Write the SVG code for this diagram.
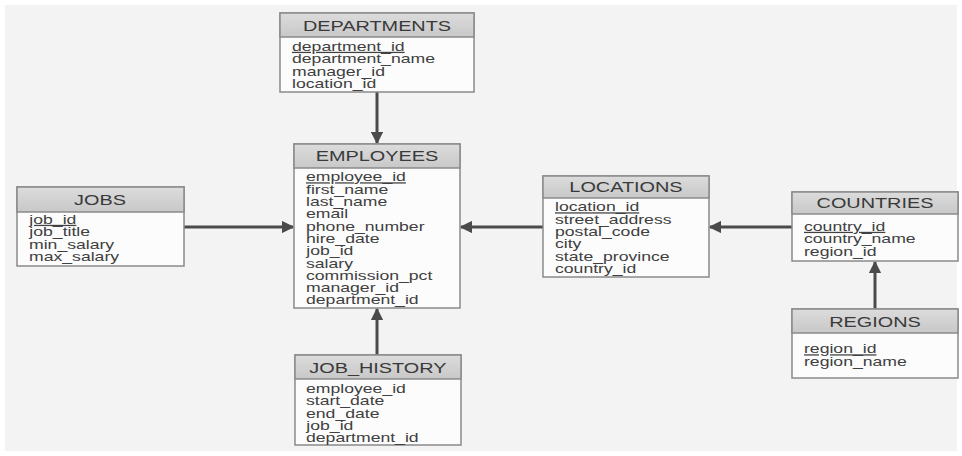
<svg xmlns="http://www.w3.org/2000/svg" width="962" height="456" viewBox="0 0 962 456">
<defs>
<linearGradient id="hdr" x1="0" y1="0" x2="0" y2="1">
<stop offset="0" stop-color="#dcdcdc"/><stop offset="1" stop-color="#c8c8c8"/>
</linearGradient>
<marker id="arr" viewBox="0 0 10 10" refX="9" refY="5" markerWidth="4.2" markerHeight="4.2" orient="auto" markerUnits="strokeWidth">
<path d="M0,0 L10,5 L0,10 z" fill="#4a4a4a"/>
</marker>
</defs>
<style>
.box{fill:#fcfcfc;stroke:#8a8a8a;stroke-width:1.5}
.hd{fill:url(#hdr);stroke:#8a8a8a;stroke-width:1.5}
.t{font-family:"Liberation Sans",Arial,sans-serif;font-size:14.5px;fill:#3a3a3a;text-anchor:middle;transform-box:fill-box;transform-origin:50% 50%;transform:scaleX(1.37)}
.f{font-family:"Liberation Sans",Arial,sans-serif;font-size:12.6px;fill:#404040;transform-box:fill-box;transform-origin:0 50%;transform:scaleX(1.4)}
.u{text-decoration:underline}
.c{stroke:#4a4a4a;stroke-width:3;fill:none;marker-end:url(#arr)}
</style>
<rect x="0" y="0" width="962" height="456" fill="#ffffff"/>
<rect x="5" y="5" width="952" height="446" fill="#f3f3f3"/>
<g id="connectors">
<line class="c" x1="377" y1="92" x2="377" y2="143"/>
<line class="c" x1="184" y1="227" x2="293" y2="227"/>
<line class="c" x1="377" y1="355" x2="377" y2="309"/>
<line class="c" x1="543" y1="227" x2="461" y2="227"/>
<line class="c" x1="792" y1="227" x2="710" y2="227"/>
<line class="c" x1="875" y1="309" x2="875" y2="262"/>
</g>
<g id="departments">
<rect class="box" x="280" y="13" width="194" height="79"/>
<rect class="hd" x="280" y="13" width="194" height="24"/>
<text class="t" x="377" y="31.5">DEPARTMENTS</text>
<text class="f u" x="292" y="51">department_id</text>
<text class="f" x="292" y="63.5">department_name</text>
<text class="f" x="292" y="76">manager_id</text>
<text class="f" x="292" y="88.5">location_id</text>
</g>
<g id="employees">
<rect class="box" x="294" y="144" width="166" height="164"/>
<rect class="hd" x="294" y="144" width="166" height="24"/>
<text class="t" x="377" y="161.5">EMPLOYEES</text>
<text class="f u" x="306" y="181.5">employee_id</text>
<text class="f" x="306" y="193.8">first_name</text>
<text class="f" x="306" y="206.1">last_name</text>
<text class="f" x="306" y="218.4">email</text>
<text class="f" x="306" y="230.7">phone_number</text>
<text class="f" x="306" y="243">hire_date</text>
<text class="f" x="306" y="255.3">job_id</text>
<text class="f" x="306" y="267.6">salary</text>
<text class="f" x="306" y="279.9">commission_pct</text>
<text class="f" x="306" y="292.2">manager_id</text>
<text class="f" x="306" y="304.5">department_id</text>
</g>
<g id="jobs">
<rect class="box" x="17" y="187" width="167" height="79"/>
<rect class="hd" x="17" y="187" width="167" height="25"/>
<text class="t" x="100" y="205">JOBS</text>
<text class="f u" x="29" y="224">job_id</text>
<text class="f" x="29" y="236.5">job_title</text>
<text class="f" x="29" y="249">min_salary</text>
<text class="f" x="29" y="261.5">max_salary</text>
</g>
<g id="job_history">
<rect class="box" x="295" y="355" width="166" height="90"/>
<rect class="hd" x="295" y="355" width="166" height="24"/>
<text class="t" x="378" y="373">JOB_HISTORY</text>
<text class="f" x="306" y="393">employee_id</text>
<text class="f" x="306" y="405.3">start_date</text>
<text class="f" x="306" y="417.6">end_date</text>
<text class="f" x="306" y="429.9">job_id</text>
<text class="f" x="306" y="442.2">department_id</text>
</g>
<g id="locations">
<rect class="box" x="543" y="176" width="166" height="101"/>
<rect class="hd" x="543" y="176" width="166" height="22"/>
<text class="t" x="626" y="192.5">LOCATIONS</text>
<text class="f u" x="555" y="211.5">location_id</text>
<text class="f" x="555" y="223.8">street_address</text>
<text class="f" x="555" y="236.1">postal_code</text>
<text class="f" x="555" y="248.4">city</text>
<text class="f" x="555" y="260.7">state_province</text>
<text class="f" x="555" y="273">country_id</text>
</g>
<g id="countries">
<rect class="box" x="792" y="192" width="166" height="69"/>
<rect class="hd" x="792" y="192" width="166" height="22"/>
<text class="t" x="875" y="208.5">COUNTRIES</text>
<text class="f u" x="804" y="231">country_id</text>
<text class="f" x="804" y="243.5">country_name</text>
<text class="f" x="804" y="256">region_id</text>
</g>
<g id="regions">
<rect class="box" x="792" y="309" width="166" height="69"/>
<rect class="hd" x="792" y="309" width="166" height="24"/>
<text class="t" x="875" y="327">REGIONS</text>
<text class="f u" x="804" y="353.5">region_id</text>
<text class="f" x="804" y="366.5">region_name</text>
</g>
</svg>
